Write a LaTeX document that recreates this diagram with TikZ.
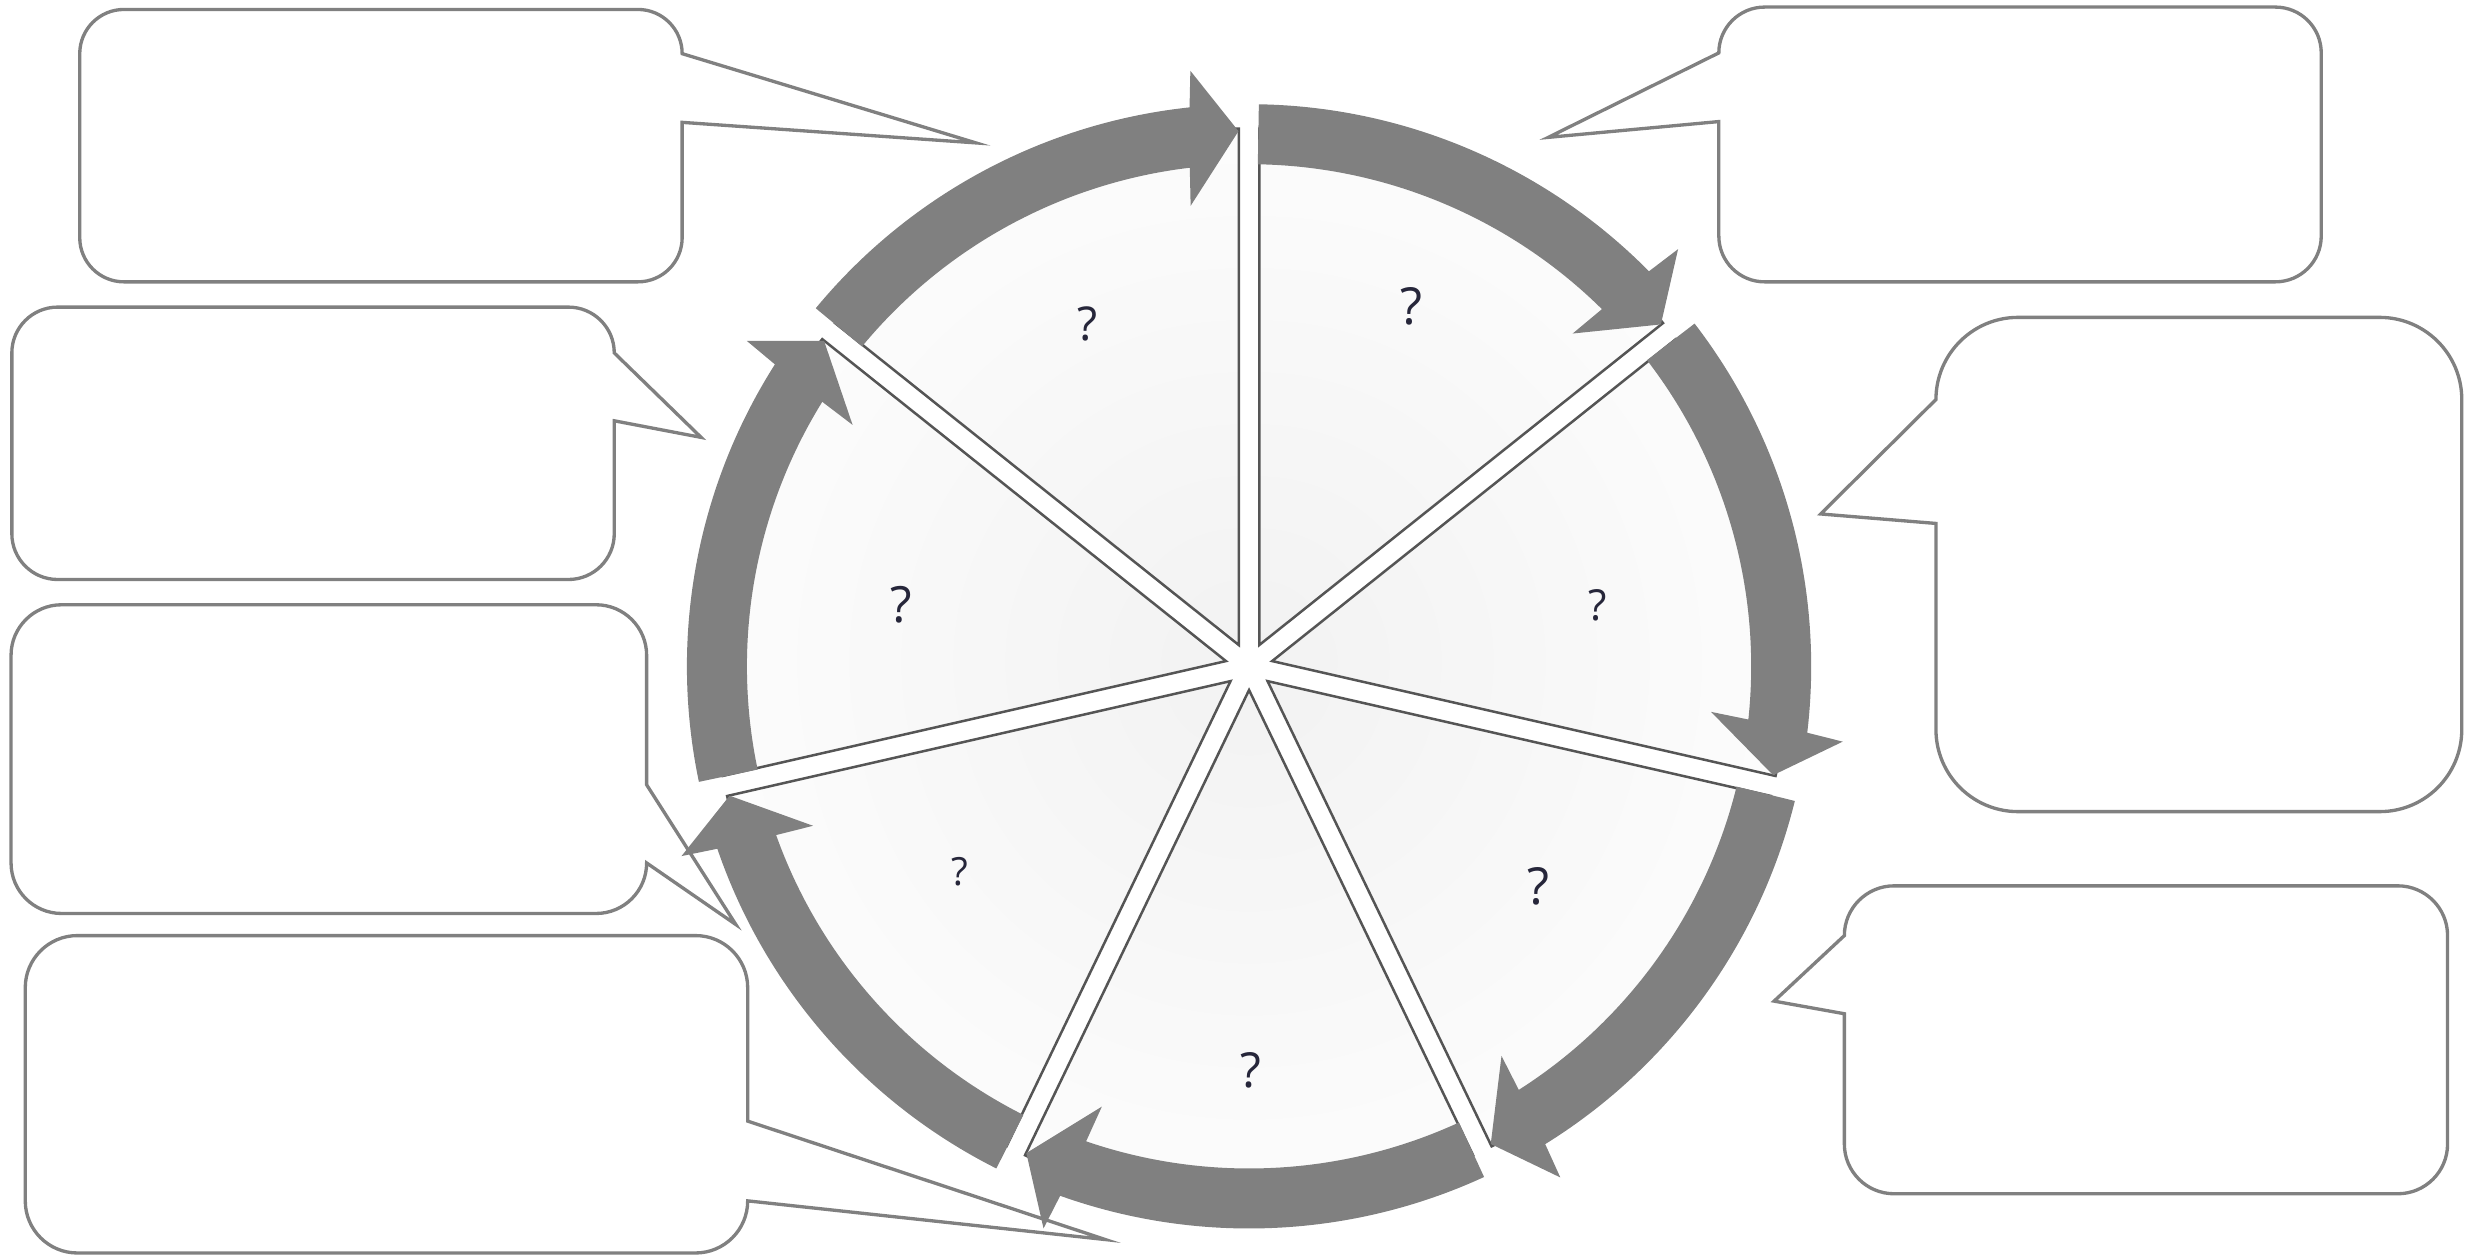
\documentclass[tikz,border=0pt]{standalone}
\usepackage{fontspec}
\setmainfont{Open Sans}
\definecolor{arrowgray}{RGB}{128,128,128}
\definecolor{boxline}{RGB}{128,128,128}
\definecolor{wedgeline}{RGB}{85,85,85}
\definecolor{qmark}{RGB}{38,38,58}
\newcommand\calloutR[9]{%
  \draw[callout] ({#1+#5},#2) -- ({#3-#5},#2) arc[start angle=270,end angle=360,radius=#5]
    -- (#3,#6) -- (#7,#8) -- (#3,#9) -- (#3,{#4-#5}) arc[start angle=0,end angle=90,radius=#5]
    -- ({#1+#5},#4) arc[start angle=90,end angle=180,radius=#5]
    -- (#1,{#2+#5}) arc[start angle=180,end angle=270,radius=#5] -- cycle;}
\newcommand\calloutL[9]{%
  \draw[callout] ({#1+#5},#2) -- ({#3-#5},#2) arc[start angle=270,end angle=360,radius=#5]
    -- (#3,{#4-#5}) arc[start angle=0,end angle=90,radius=#5]
    -- ({#1+#5},#4) arc[start angle=90,end angle=180,radius=#5]
    -- (#1,#9) -- (#7,#8) -- (#1,#6) -- (#1,{#2+#5}) arc[start angle=180,end angle=270,radius=#5] -- cycle;}
\begin{document}
\begin{tikzpicture}[x=0.01cm,y=-0.01cm,
  callout/.style={draw=boxline,line width=0.6pt,line join=miter},
  wedgeedge/.style={draw=wedgeline,line width=0.45pt,line join=miter},
  cyclearrow/.style={fill=arrowgray},
  qlabel/.style={text=qmark,inner sep=0pt,anchor=center}]
\useasboundingbox (0,0) rectangle (1568,795);
\coordinate (C) at (791,422);

% wedges
\foreach \k in {0,...,6} {
  \pgfmathsetmacro\a{-90+51.428571*\k}
  \pgfmathsetmacro\b{\a+51.428571}
  \pgfmathsetmacro\m{\a+25.714286}
  \begin{scope}[shift={(C)},shift={(\m:15)}]
    \fill[white] (0,0) -- (\a:327) arc[start angle=\a,end angle=\b,radius=327] -- cycle;
    \begin{scope}
      \clip (0,0) -- (\a:327) arc[start angle=\a,end angle=\b,radius=327] -- cycle;
      \shade[inner color=black!5,outer color=white] (0,0) circle (420);
    \end{scope}
    \draw[wedgeedge] (0,0) -- (\a:327) arc[start angle=\a,end angle=\b,radius=327] -- cycle;
  \end{scope}
}

% circular arrows
\foreach \B in {218.571429,270,321.428571,372.857143,424.285714,475.714286,527.142857} {
  \pgfmathsetmacro\t{\B+1.0}
  \pgfmathsetmacro\ho{\B+45.35}
  \pgfmathsetmacro\hbo{\B+45.8}
  \pgfmathsetmacro\hi{\B+44.65}
  \pgfmathsetmacro\hbi{\B+44.2}
  \pgfmathsetmacro\tip{\B+50.3}
  \fill[cyclearrow,shift={(C)}] (\t:356) arc[start angle=\t,end angle=\ho,radius=356]
    -- (\hbo:379) -- (\tip:339) -- (\hbi:294) -- (\hi:318)
    arc[start angle=\hi,end angle=\t,radius=318] -- cycle;
}

% labels
\node[qlabel,font=\fontsize{8.4pt}{9pt}\selectfont] (q7) at (689,205) {?};
\node[qlabel,font=\fontsize{9.2pt}{10pt}\selectfont] (q1) at (894,194) {?};
\node[qlabel,font=\fontsize{7.7pt}{9pt}\selectfont] (q2) at (1012,383.5) {?};
\node[qlabel,font=\fontsize{9.2pt}{10pt}\selectfont] (q3) at (974,561.5) {?};
\node[qlabel,font=\fontsize{8.7pt}{10pt}\selectfont] (q4) at (792,678) {?};
\node[qlabel,font=\fontsize{7pt}{8pt}\selectfont] (q5) at (608,552) {?};
\node[qlabel,font=\fontsize{9pt}{10pt}\selectfont] (q6) at (571,383) {?};

% callouts
\calloutR{50.5}{6}{432}{178.5}{28}{34}{618}{90.5}{77.5}
\calloutR{7.5}{194.5}{389}{367}{29}{223.5}{444}{277}{266.5}
\calloutR{7}{383}{409.5}{578.5}{32}{497}{466}{585.5}{546.5}
\calloutR{16}{592.5}{473.5}{793.5}{33}{710}{700}{785}{760.5}
\calloutL{1088.5}{4.5}{1470}{178.5}{29}{33.5}{980.5}{87}{77}
\calloutL{1226}{201}{1559}{514}{52}{253}{1153}{325.5}{331.5}
\calloutL{1168}{561}{1550}{756}{31.5}{592.5}{1123.5}{634}{642}
\end{tikzpicture}
\end{document}
